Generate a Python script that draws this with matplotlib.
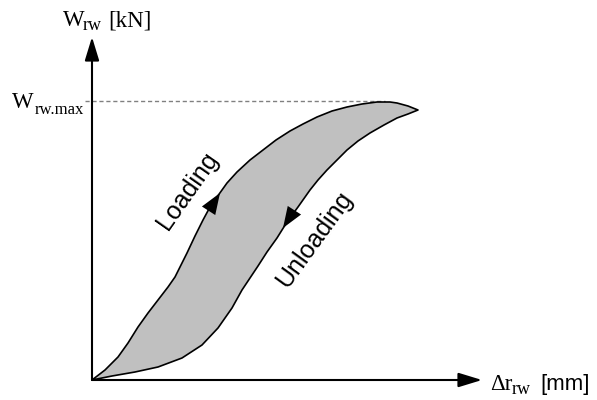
import matplotlib
matplotlib.use("Agg")
import matplotlib.pyplot as plt

SERIF = "Liberation Serif"
SANS = "Liberation Sans"

# loading branch, origin -> peak -> tip (displacement, force) in drawing units
LOAD_X = [0, 13, 26, 36, 46, 56, 66, 76, 83, 90, 95, 103, 111, 118, 125, 135,
          145, 158, 171, 184, 198, 211, 225, 240, 255, 270, 285, 298, 305,
          316, 326]
LOAD_Y = [0, 10, 23, 37, 53, 67, 80, 93, 103, 117, 127, 144, 160, 173, 183,
          197, 208, 220, 230, 240, 249, 256, 263, 269, 273, 276, 278, 278,
          277, 274, 270]

# unloading branch, tip -> origin
UNLOAD_X = [326, 316, 305, 292, 278, 266, 255, 245, 235, 226, 218, 206, 195,
            185, 175, 166, 158, 150, 140, 126, 110, 90, 66, 43, 20, 0]
UNLOAD_Y = [270, 266, 262, 255, 247, 239, 230, 220, 210, 200, 190, 173, 158,
            142, 128, 114, 102, 90, 72, 52, 35, 22, 13, 8, 4, 0]

W_MAX = 279

fig = plt.figure(figsize=(5.97, 4.0), dpi=100)
ax = fig.add_axes([0, 0, 1, 1])
ax.set_xlim(-92, 505)
ax.set_ylim(-20, 380)
ax.axis("off")

# hysteresis loop
ax.fill(LOAD_X + UNLOAD_X, LOAD_Y + UNLOAD_Y, facecolor="#c0c0c0",
        edgecolor="black", lw=1.2, joinstyle="round", zorder=2)

# peak force reference line
ax.plot([-7, 293], [W_MAX, W_MAX], color="#808080", lw=1.0,
        dashes=(3, 2), zorder=1)

# axes with arrowheads
axis_arrow = dict(arrowstyle="-|>,head_length=0.72,head_width=0.22",
                  mutation_scale=20, lw=1.5, color="black",
                  shrinkA=0, shrinkB=0)
ax.annotate("", xy=(390, 0), xytext=(0, 0), arrowprops=axis_arrow, zorder=3)
ax.annotate("", xy=(0, 343), xytext=(0, 0), arrowprops=axis_arrow, zorder=3)

# direction arrows on the branches
dir_arrow = dict(arrowstyle="-|>,head_length=0.8,head_width=0.3",
                 mutation_scale=19, lw=0, color="black",
                 shrinkA=0, shrinkB=0)
ax.annotate("", xy=(128, 187), xytext=(119, 173), arrowprops=dir_arrow,
            zorder=4)
ax.annotate("", xy=(191, 152), xytext=(200, 166), arrowprops=dir_arrow,
            zorder=4)

ax.text(96, 189, "Loading", family=SANS, fontsize=18, rotation=55,
        ha="center", va="center", rotation_mode="anchor")
ax.text(222, 140, "Unloading", family=SANS, fontsize=18, rotation=54,
        ha="center", va="center", rotation_mode="anchor")


def label(x, y, parts):
    """Draw a label piece by piece: (dx, dy, text, family, size)."""
    for dx, dy, s, fam, size in parts:
        ax.text(x + dx, y + dy, s, family=fam, fontsize=size,
                ha="left", va="baseline")


# axis labels with subscripts
label(-29, 354, [(0, 0, "W", SERIF, 16.5),
                 (20, -4, "rw", SERIF, 13),
                 (45, 0, "[kN]", SERIF, 16.5)])
label(-80, 272, [(0, 0, "W", SERIF, 16.5),
                 (23, -6, "rw.max", SERIF, 12)])
label(398, -10, [(0, 0, "\u0394r", SERIF, 16.5),
                 (22, -4, "rw", SERIF, 13),
                 (50, 0, "[mm]", SANS, 16)])

fig.savefig("out.png", dpi=100)
